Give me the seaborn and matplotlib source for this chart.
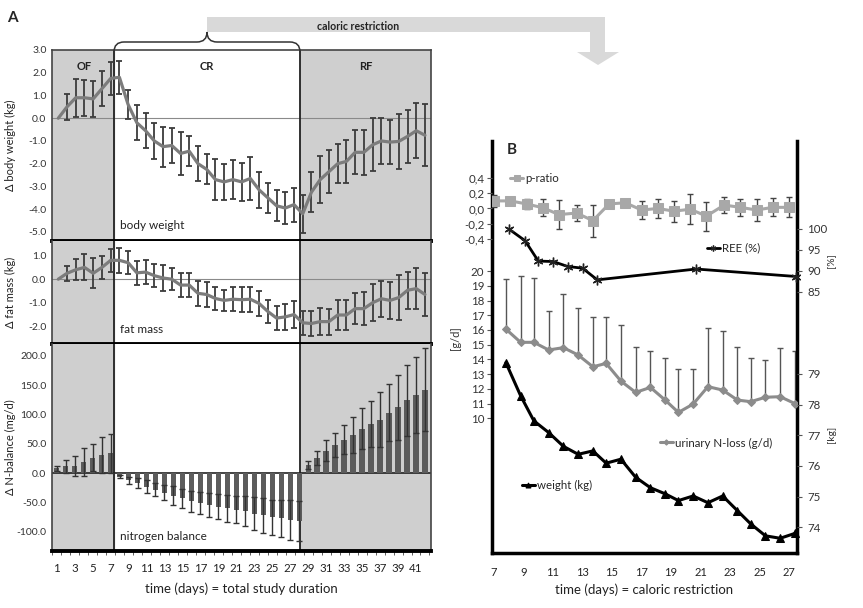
import numpy as np
import seaborn as sns
import matplotlib.pyplot as plt
from matplotlib.path import Path
from matplotlib.patches import PathPatch, Polygon, Rectangle

# ---------------- panel A: change from baseline over the whole study ----------------
line_days = list(range(0, 43))
bw_mean = [0.0, 0.5, 0.9, 0.9, 0.85, 1.3, 1.75,
           1.8, 0.6, -0.2, -0.55, -1.0, -1.25, -1.2, -1.55, -1.45, -2.0, -2.25, -2.7, -2.8,
           -2.7, -2.8, -2.65, -3.15, -3.5, -3.85, -3.95, -3.8, -4.2,
           -3.25, -2.7, -2.35, -2.0, -1.9, -1.5, -1.5, -1.17, -1.0, -1.05, -1.02, -0.8, -0.55, -0.75]
bw_err = [0.0, 0.57, 0.84, 0.8, 0.8, 0.77, 0.73,
          0.73, 0.64, 0.77, 0.78, 0.78, 0.88, 0.79, 0.93, 0.66, 0.77, 0.66, 0.89, 0.8,
          0.86, 0.84, 0.95, 0.8, 0.66, 0.68, 0.71, 0.75, 0.84,
          0.88, 1.04, 0.95, 0.86, 0.95, 0.97, 0.99, 1.17, 1.0, 0.96, 1.2, 1.17, 1.2, 1.37]
fm_mean = [0.0, 0.25, 0.4, 0.5, 0.25, 0.5, 0.8,
           0.8, 0.7, 0.27, 0.3, 0.15, 0.05, 0.0, -0.25, -0.25, -0.6, -0.65, -0.82, -0.9,
           -0.85, -0.87, -0.85, -1.03, -1.37, -1.65, -1.6, -1.5, -1.85,
           -1.88, -1.8, -1.8, -1.52, -1.52, -1.25, -1.25, -1.0, -0.83, -0.9, -0.78, -0.47, -0.4, -0.65]
fm_err = [0.0, 0.33, 0.44, 0.55, 0.64, 0.5, 0.5,
          0.54, 0.5, 0.51, 0.51, 0.5, 0.57, 0.46, 0.5, 0.51, 0.53, 0.54, 0.48, 0.46,
          0.52, 0.54, 0.53, 0.53, 0.5, 0.52, 0.54, 0.59, 0.51,
          0.54, 0.57, 0.55, 0.62, 0.62, 0.67, 0.69, 0.78, 0.77, 0.8, 0.97, 0.79, 0.87, 0.93]
bar_days = list(range(1, 43))
nb_mean = [8, 12, 13, 19, 26, 31, 34,
           -5.7, -12, -17, -23, -28, -33, -38, -43, -48, -51, -54.5, -57, -60, -62.5,
           -65, -69, -72, -75, -77, -80, -82,
           14, 26, 38, 48, 57, 65, 76, 84, 91, 103, 112, 124, 133, 142]
nb_err = [4, 11, 17, 24, 23, 30, 33,
          3, 6, 8.5, 11, 11.4, 13, 15.6, 16.5, 18.5, 19.3, 20, 21, 23, 23,
          25.6, 28, 29, 30, 31, 33.5, 34,
          7, 12, 18, 21, 25, 30, 35, 39, 47, 49, 56, 61, 65, 71]
a_ticks = list(range(1, 42, 2))

# ---------------- panel B: caloric restriction ----------------
p_days = [7.0, 8.1, 9.2, 10.3, 11.4, 12.6, 13.7, 14.8, 15.9, 17.0, 18.1, 19.2, 20.3,
          21.4, 22.6, 23.7, 24.8, 25.9, 27.0]
p_ratio = [0.10, 0.10, 0.06, 0.01, -0.08, -0.06, -0.16, 0.06, 0.075, -0.02, 0.0, -0.035,
           -0.01, -0.10, 0.045, 0.015, -0.02, 0.015, 0.015]
p_err = [0.08, 0.0, 0.07, 0.11, 0.19, 0.11, 0.21, 0.05, 0.05, 0.12, 0.13, 0.14, 0.2,
         0.19, 0.1, 0.11, 0.15, 0.12, 0.13]
ree_days = [8.0, 9.1, 10.0, 11.0, 12.0, 13.0, 14.0, 20.7, 27.5]
ree = [100.0, 97.2, 92.3, 92.2, 91.0, 90.6, 87.8, 90.4, 88.6]
cr_days = [7.8, 8.8, 9.7, 10.7, 11.7, 12.7, 13.7, 14.6, 15.6, 16.6, 17.6, 18.6, 19.5,
           20.5, 21.5, 22.5, 23.5, 24.4, 25.4, 26.4, 27.4]
n_loss = [16.06, 15.16, 15.16, 14.64, 14.8, 14.3, 13.5, 13.73, 12.53, 11.76, 12.1, 11.24,
          10.4, 10.97, 12.15, 11.92, 11.24, 11.13, 11.43, 11.47, 11.0]
n_err = [3.37, 4.5, 4.34, 2.64, 3.62, 3.17, 3.4, 3.17, 3.8, 3.1, 2.5, 2.86, 2.93, 2.36,
         3.95, 4.03, 3.62, 2.99, 2.53, 3.28, 3.6]
weight = [79.37, 78.29, 77.47, 77.09, 76.64, 76.38, 76.49, 76.09, 76.22, 75.63, 75.29,
          75.09, 74.87, 75.02, 74.8, 75.02, 74.54, 74.11, 73.72, 73.64, 73.8]
b_ticks = list(range(7, 28, 2))

sns.set_style("white")
plt.rcParams["font.family"] = ["Lato", "DejaVu Sans"]
plt.rcParams["axes.unicode_minus"] = False

W, H = 863, 608
fig = plt.figure(figsize=(W / 100, H / 100), dpi=100)


def box(l, t, r, b):
    # pixel box (from top-left) -> figure fraction rect
    return [l / W, 1 - b / H, (r - l) / W, (b - t) / H]


def fp(x, y):
    return (x / W, 1 - y / H)


SHADE = "#cfcfcf"
OF_END = (114 - 52) / 379   # phase borders as axes fractions
RF_START = (300 - 52) / 379

ax1 = fig.add_axes(box(52, 50, 431, 241))
ax2 = fig.add_axes(box(52, 241, 431, 344))
ax3 = fig.add_axes(box(52, 344, 431, 551))

for ax in (ax1, ax2, ax3):
    ax.add_patch(Rectangle((0, 0), OF_END, 1, transform=ax.transAxes, color=SHADE, zorder=0))
    ax.add_patch(Rectangle((RF_START, 0), 1 - RF_START, 1, transform=ax.transAxes,
                           color=SHADE, zorder=0))
    for f in (OF_END, RF_START):
        ax.plot([f, f], [0, 1], transform=ax.transAxes, color="#222222", lw=1.3, zorder=2)
    for s in ("left", "right"):
        ax.spines[s].set_color("#444444")
        ax.spines[s].set_linewidth(1.2)
    ax.spines["bottom"].set_color("black")
    ax.spines["bottom"].set_linewidth(2.8)
    ax.spines["top"].set_visible(False)
    ax.tick_params(axis="y", length=2, labelsize=7.5, pad=2, labelcolor="#333333")
    ax.yaxis.set_label_coords(-0.094, 0.5)

ax1.spines["top"].set_visible(True)
ax1.spines["top"].set_color("#444444")
ax1.spines["top"].set_linewidth(1.2)

panels = [(ax1, bw_mean, bw_err, (-5.4, 3.0), np.arange(-5, 3.5, 1), "\u0394 body weight (kg)", "body weight", 0.079),
          (ax2, fm_mean, fm_err, (-2.75, 1.62), np.arange(-2, 1.5, 1), "\u0394 fat mass (kg)", "fat mass", 0.136)]
for ax, mean, err, ylim, ticks, ylab, name, ny in panels:
    ax.axhline(0, color="#8a8a8a", lw=0.8, zorder=1)
    idx = [i for i, e in enumerate(err) if e > 0]
    ax.errorbar([line_days[i] for i in idx], [mean[i] for i in idx], yerr=[err[i] for i in idx],
                fmt="none", ecolor="#3c3c3c", elinewidth=1.3, capsize=2.5, capthick=1.3, zorder=3)
    sns.lineplot(x=line_days, y=mean, ax=ax, color="#7c7c7c", lw=2.3, zorder=4)
    ax.set_xlim(-0.72, 42.69)
    ax.set_ylim(*ylim)
    ax.set_yticks(ticks)
    ax.set_yticklabels([f"{t:.1f}" for t in ticks])
    ax.set_xticks([])
    ax.set_ylabel(ylab, fontsize=8, color="#222222")
    ax.text(0.179, ny, name, transform=ax.transAxes, fontsize=8.5, va="center", color="#222222")

for lab, xf in zip(["OF", "CR", "RF"], [0.084, 0.409, 0.828]):
    ax1.text(xf, 0.916, lab, transform=ax1.transAxes, ha="center", va="center",
             fontsize=8, fontweight="bold", color="#222222")

# nitrogen balance bars
sns.barplot(x=bar_days, y=nb_mean, native_scale=True, width=0.6, color="#5c5c5c",
            saturation=1, errorbar=None, ax=ax3, zorder=3, edgecolor="none", linewidth=0)
ax3.errorbar(bar_days, nb_mean, yerr=nb_err, fmt="none", ecolor="#333333",
             elinewidth=1.0, capsize=2, capthick=1.0, zorder=4)
ax3.axhline(0, color="#222222", lw=1.2, zorder=2)
ax3.set_xlim(0.48, 42.67)
ax3.set_ylim(-132.5, 220)
nb_ticks = np.arange(-100, 201, 50)
ax3.set_yticks(nb_ticks)
ax3.set_yticklabels([f"{t:.1f}" for t in nb_ticks])
ax3.set_xticks(a_ticks)
ax3.set_xticklabels([str(t) for t in a_ticks])
ax3.set_xticks(np.arange(0.5, 43, 1), minor=True)
ax3.tick_params(axis="x", which="major", length=0, labelsize=8.3, pad=9, labelcolor="#222222")
ax3.tick_params(axis="x", which="minor", length=3, color="#444444", bottom=True)
ax3.set_ylabel("\u0394 N-balance (mg/d)", fontsize=8, color="#222222")
ax3.set_xlabel("time (days) = total study duration", fontsize=9.5, color="#222222", labelpad=6)
ax3.text(0.179, 0.072, "nitrogen balance", transform=ax3.transAxes, fontsize=8.5,
         va="center", color="#222222")

# labels, brace and arrow on top
fig.text(*fp(12, 18), "A", fontsize=11, fontweight="bold", ha="center", va="center")
fig.text(*fp(512, 150), "B", fontsize=11, fontweight="bold", ha="center", va="center")

arrow = [fp(207, 17), fp(605, 17), fp(605, 52), fp(619, 52), fp(598, 65), fp(577, 52),
         fp(590, 52), fp(590, 32), fp(207, 32)]
fig.add_artist(Polygon(arrow, closed=True, transform=fig.transFigure, facecolor="#d9d9d9",
                       edgecolor="none"))
fig.text(*fp(358, 26), "caloric restriction", fontsize=7.6, fontweight="bold",
         ha="center", va="center", color="#222222")

brace = [fp(114, 52), fp(114, 42), fp(124, 42), fp(197, 42), fp(207, 42), fp(207, 32),
         fp(207, 42), fp(217, 42), fp(290, 42), fp(300, 42), fp(300, 52)]
codes = [Path.MOVETO, Path.CURVE3, Path.CURVE3, Path.LINETO, Path.CURVE3, Path.CURVE3,
         Path.CURVE3, Path.CURVE3, Path.LINETO, Path.CURVE3, Path.CURVE3]
fig.add_artist(PathPatch(Path(brace, codes), transform=fig.transFigure, fill=False,
                         edgecolor="#333333", lw=1.1))

# ---------------- panel B ----------------
rect_b = box(492, 141, 797, 553)
axG = fig.add_axes(rect_b)
axP = fig.add_axes(rect_b, sharex=axG)
axR = fig.add_axes(rect_b, sharex=axG)
axK = fig.add_axes(rect_b, sharex=axG)

for ax in (axP, axR, axK):
    ax.patch.set_visible(False)
    for s in ax.spines.values():
        s.set_visible(False)
    ax.tick_params(axis="x", bottom=False, labelbottom=False)

axG.patch.set_visible(False)
axG.spines["top"].set_visible(False)
for s in ("left", "right", "bottom"):
    axG.spines[s].set_color("black")
    axG.spines[s].set_linewidth(2.5)

# urinary N-loss (g/d)
axG.errorbar(cr_days, n_loss, yerr=[[0] * len(n_err), n_err], fmt="none", ecolor="#555555",
             elinewidth=1.0, capsize=2.5, capthick=1.0, zorder=2)
sns.lineplot(x=cr_days, y=n_loss, ax=axG, color="#8c8c8c", lw=2.2, marker="D",
             markersize=4.5, markeredgecolor="#8c8c8c", label="urinary N-loss (g/d)", zorder=3)
axG.set_ylim(0.856, 28.83)
axG.set_yticks(range(10, 21))
axG.set_xlim(6.86, 27.54)
axG.set_xticks(b_ticks)
axG.set_xticklabels([str(t) for t in b_ticks])
axG.tick_params(axis="x", length=0, labelsize=8, pad=10, labelcolor="#222222")
axG.tick_params(axis="y", left=True, length=3.5, width=0.8, color="#555555", labelsize=8.3,
                pad=2, labelcolor="#333333")
axG.set_xlabel("time (days) = caloric restriction", fontsize=9.5, color="#222222", labelpad=4)
axG.set_ylabel("")
axG.legend(loc="center left", bbox_to_anchor=(0.551, 0.267), frameon=False, fontsize=8.3,
           handlelength=1.1, handletextpad=0.2, borderpad=0, borderaxespad=0, markerscale=0.6)

# p-ratio
axP.errorbar(p_days, p_ratio, yerr=p_err, fmt="none", ecolor="#444444", elinewidth=1.0,
             capsize=2.5, capthick=1.0, zorder=2)
sns.lineplot(x=p_days, y=p_ratio, ax=axP, color="#a8a8a8", lw=2.2, marker="s",
             markersize=7, markeredgecolor="#a8a8a8", label="p-ratio", zorder=3)
axP.set_ylim(-4.533, 0.888)
p_ticks = [-0.4, -0.2, 0.0, 0.2, 0.4]
axP.set_yticks(p_ticks)
axP.set_yticklabels([f"{t:.1f}".replace(".", ",") for t in p_ticks])
axP.tick_params(axis="y", left=True, length=3.5, width=0.8, color="#555555", labelsize=8.3,
                pad=2, labelcolor="#333333")
axP.set_ylabel("")
axP.legend(loc="center left", bbox_to_anchor=(0.06, 0.91), frameon=False, fontsize=8.3,
           handlelength=1.1, handletextpad=0.2, borderpad=0, borderaxespad=0, markerscale=0.6)

# REE (%)
sns.lineplot(x=ree_days, y=ree, ax=axR, color="black", lw=2.0, marker=(6, 2, 0),
             markersize=7, markeredgecolor="#222222", markeredgewidth=1.0, label="REE (%)",
             zorder=3, clip_on=False)
axR.set_ylim(22.3, 121.1)
axR.yaxis.tick_right()
axR.set_yticks([85, 90, 95, 100])
axR.tick_params(axis="y", right=True, length=3.5, width=0.8, color="#555555", labelsize=8.3,
                pad=4, labelcolor="#333333")
axR.set_ylabel("")
axR.legend(loc="center left", bbox_to_anchor=(0.705, 0.74), frameon=False, fontsize=8.3,
           handlelength=1.1, handletextpad=0.2, borderpad=0, borderaxespad=0, markerscale=0.6)

# weight (kg)
sns.lineplot(x=cr_days, y=weight, ax=axK, color="black", lw=2.2, marker="^",
             markersize=6, markeredgecolor="black", label="weight (kg)", zorder=3,
             clip_on=False)
axK.set_ylim(73.16, 86.6)
axK.yaxis.tick_right()
axK.set_yticks(range(74, 80))
axK.tick_params(axis="y", right=True, length=3.5, width=0.8, color="#555555", labelsize=8.3,
                pad=4, labelcolor="#333333")
axK.set_ylabel("")
axK.legend(loc="center left", bbox_to_anchor=(0.098, 0.163), frameon=False, fontsize=8.3,
           handlelength=1.1, handletextpad=0.2, borderpad=0, borderaxespad=0, markerscale=0.6)

fig.text(*fp(455, 338), "[g/d]", rotation=90, fontsize=8, ha="center", va="center",
         color="#333333")
fig.text(*fp(831, 261), "[%]", rotation=90, fontsize=7.5, ha="center", va="center",
         color="#333333")
fig.text(*fp(831, 434), "[kg]", rotation=90, fontsize=7.5, ha="center", va="center",
         color="#333333")

fig.savefig("out.png", dpi=100)
